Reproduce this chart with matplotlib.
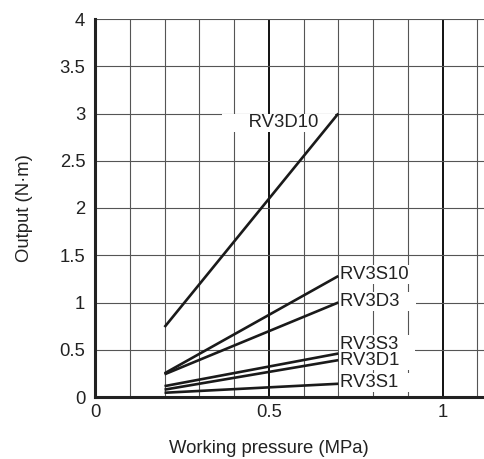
import matplotlib.pyplot as plt

plt.rcParams['font.family'] = ['Liberation Sans', 'DejaVu Sans']
plt.rcParams['font.size'] = 13.3

# pressure range (MPa) shared by all curves
pressure = [0.2, 0.7]

series = ["RV3D10", "RV3S10", "RV3D3", "RV3S3", "RV3D1", "RV3S1"]
output = {
    "RV3D10": [0.74, 3.0],
    "RV3S10": [0.25, 1.28],
    "RV3D3": [0.24, 1.0],
    "RV3S3": [0.115, 0.46],
    "RV3D1": [0.078, 0.39],
    "RV3S1": [0.045, 0.14],
}
# label anchor positions (data coords)
label_pos = {
    "RV3D10": (0.528, 2.90, 'center'),
    "RV3S10": (0.705, 1.30, 'left'),
    "RV3D3": (0.705, 1.01, 'left'),
    "RV3S3": (0.705, 0.555, 'left'),
    "RV3D1": (0.705, 0.385, 'left'),
    "RV3S1": (0.705, 0.15, 'left'),
}

fig = plt.figure(figsize=(4.85, 4.59), dpi=100)
ax = fig.add_axes([95 / 485, 1 - 397 / 459, 390 / 485, 378 / 459])

ax.set_xlim(0, 1.122)
ax.set_ylim(0, 4)

# grid
for gx in [i / 10 for i in range(1, 12)]:
    major = abs(gx - 0.5) < 1e-6 or abs(gx - 1.0) < 1e-6
    ax.axvline(gx, color='#111111' if major else '#555555',
               lw=1.4 if major else 0.8, zorder=1)
for gy in [i / 2 for i in range(1, 9)]:
    ax.axhline(gy, color='#555555', lw=0.8, zorder=1)

for name in series:
    ax.plot(pressure, output[name], color='#1a1a1a', lw=1.9, zorder=5,
            solid_capstyle='butt')

for name in series:
    x, y, ha = label_pos[name]
    txt = "     " + name + "   " if ha == 'center' else name + "   "
    ax.text(x, y, txt, ha=ha, va='center', color='#222222', zorder=4,
            bbox=dict(boxstyle='square,pad=0.05', fc='white', ec='none'))

for s in ['top', 'right']:
    ax.spines[s].set_visible(False)
for s in ['left', 'bottom']:
    ax.spines[s].set_linewidth(2.2)
    ax.spines[s].set_color('#222222')
    ax.spines[s].set_zorder(6)

ax.set_xticks([0, 0.5, 1])
ax.set_xticklabels(['0', '0.5', '1'])
ax.set_yticks([0, 0.5, 1, 1.5, 2, 2.5, 3, 3.5, 4])
ax.set_yticklabels(['0', '0.5', '1', '1.5', '2', '2.5', '3', '3.5', '4'])
ax.tick_params(length=0, colors='#222222')
ax.tick_params(axis='x', pad=5)
ax.tick_params(axis='y', pad=7)

ax.set_xlabel("Working pressure (MPa)", color='#222222')
ax.xaxis.set_label_coords(0.445, -0.115)
ax.set_ylabel("Output (N·m)", color='#222222')
ax.yaxis.set_label_coords(-0.159, 0.5)

fig.savefig("out.png", dpi=100)
